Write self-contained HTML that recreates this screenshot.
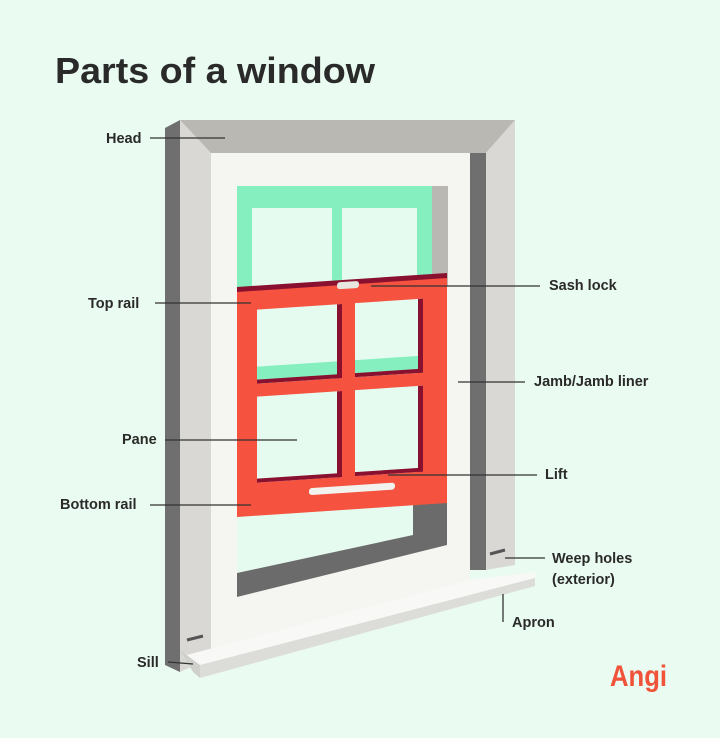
<!DOCTYPE html>
<html><head><meta charset="utf-8"><style>
html,body{margin:0;padding:0;background:#eafbf1;}
svg{display:block}
text{font-family:"Liberation Sans",Arial,sans-serif;font-weight:bold;fill:#2a2a2a}
</style></head><body>
<svg width="720" height="738" viewBox="0 0 720 738" xmlns="http://www.w3.org/2000/svg">
<rect width="720" height="738" fill="#eafbf1"/>
<text x="55" y="83" font-size="36" textLength="320" lengthAdjust="spacingAndGlyphs">Parts of a window</text>

<!-- inner white area -->
<polygon points="211,153 470,153 470,582 211,652" fill="#f5f5f2"/>
<!-- left jamb -->
<polygon points="165,128 180,120 180,672 165,665" fill="#6f6f6f"/>
<polygon points="180,120 211,153 211,658 180,672" fill="#d9d8d4"/>
<!-- head -->
<polygon points="180,120 515,120 486,153 211,153" fill="#bab8b3"/>
<!-- right jamb -->
<rect x="470" y="153" width="16" height="417" fill="#6f6f6f"/>
<polygon points="486,153 515,120 515,565 486,570" fill="#d9d8d4"/>

<!-- upper sash (green) -->
<rect x="432" y="186" width="16" height="100" fill="#b9b8b3"/>
<rect x="237" y="186" width="195" height="205" fill="#86efc0"/>
<rect x="252" y="208" width="80" height="180" fill="#e6fbf0"/>
<rect x="342" y="208" width="75" height="170" fill="#e6fbf0"/>

<!-- lower opening -->
<polygon points="237,470 413,470 413,535 237,573" fill="#e6fbf0"/>
<polygon points="413,470 447,470 447,545 237,597 237,573 413,535" fill="#6b6b6b"/>

<!-- sill -->
<polygon points="183,656 470,580 535,572 535,578 200,665" fill="#f8f8f6"/>
<polygon points="200,665 535,578 535,586 200,678" fill="#dcdcd8"/>
<polygon points="180,650 200,665 200,678 193,672" fill="#cfcfcb"/>
<line x1="187" y1="640" x2="203" y2="636" stroke="#555" stroke-width="3"/>
<line x1="490" y1="554" x2="505" y2="550" stroke="#555" stroke-width="3"/>

<!-- lower sash (red), skewed -->
<g transform="translate(237,288) skewY(-3.8)">
  <rect x="0" y="0" width="210" height="229" fill="#f5533f"/>
  <rect x="0" y="-1" width="210" height="5" fill="#8a1030"/>
  <rect x="20" y="23" width="85" height="74" fill="#e6fbf0"/>
  <rect x="20" y="80" width="85" height="17" fill="#86efc0"/>
  <rect x="118" y="23" width="68" height="74" fill="#e6fbf0"/>
  <rect x="118" y="80" width="68" height="17" fill="#86efc0"/>
  <rect x="20" y="110" width="85" height="86" fill="#e6fbf0"/>
  <rect x="118" y="110" width="68" height="86" fill="#e6fbf0"/>
  <rect x="100" y="23" width="5" height="74" fill="#8a1030"/>
  <rect x="20" y="93" width="85" height="4" fill="#8a1030"/>
  <rect x="181" y="23" width="5" height="74" fill="#8a1030"/>
  <rect x="118" y="93" width="68" height="4" fill="#8a1030"/>
  <rect x="100" y="110" width="5" height="86" fill="#8a1030"/>
  <rect x="20" y="192" width="85" height="4" fill="#8a1030"/>
  <rect x="181" y="110" width="5" height="86" fill="#8a1030"/>
  <rect x="118" y="192" width="68" height="4" fill="#8a1030"/>
  <rect x="72" y="205" width="86" height="7" rx="3" fill="#f2f2ee"/>
  <rect x="100" y="1" width="22" height="7" rx="3" fill="#e8e6e0"/>
</g>

<!-- leader lines -->
<g stroke="#333" stroke-width="1.3">
<line x1="150" y1="138" x2="225" y2="138"/>
<line x1="155" y1="303" x2="251" y2="303"/>
<line x1="165" y1="440" x2="297" y2="440"/>
<line x1="150" y1="505" x2="251" y2="505"/>
<line x1="168" y1="662" x2="193" y2="664"/>
<line x1="371" y1="286" x2="540" y2="286"/>
<line x1="458" y1="382" x2="525" y2="382"/>
<line x1="388" y1="475" x2="537" y2="475"/>
<line x1="505" y1="558" x2="545" y2="558"/>
<line x1="503" y1="594" x2="503" y2="622"/>
</g>

<g font-size="14.5">
<text x="106" y="143">Head</text>
<text x="88" y="308">Top rail</text>
<text x="122" y="444">Pane</text>
<text x="60" y="509">Bottom rail</text>
<text x="137" y="667">Sill</text>
<text x="549" y="290">Sash lock</text>
<text x="534" y="386">Jamb/Jamb liner</text>
<text x="545" y="479">Lift</text>
<text x="552" y="563">Weep holes</text>
<text x="552" y="584">(exterior)</text>
<text x="512" y="627">Apron</text>
</g>
<text x="610" y="686" font-size="30" style="fill:#f0533a" textLength="57" lengthAdjust="spacingAndGlyphs">Angi</text>
</svg>
</body></html>
